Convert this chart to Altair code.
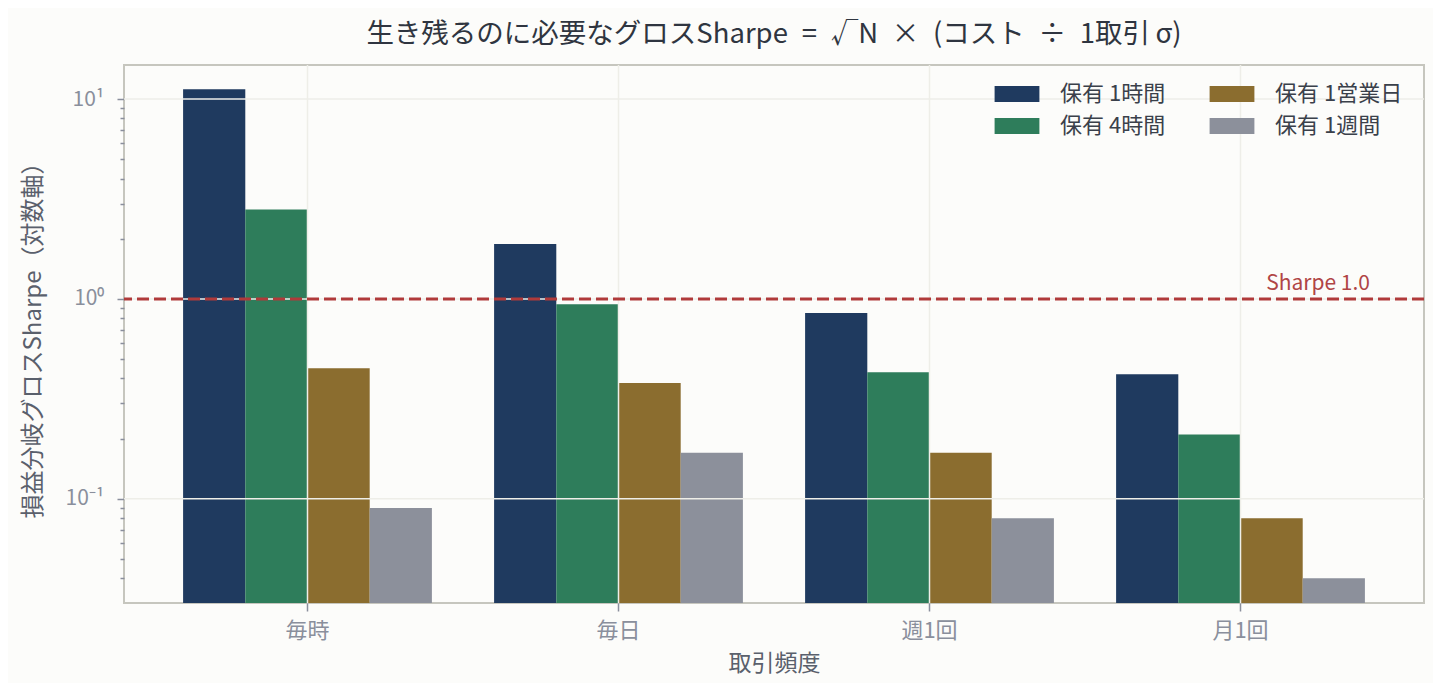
import altair as alt
import pandas as pd

# 取引頻度 × 保有期間ごとの損益分岐グロスSharpe
freqs = ["毎時", "毎日", "週1回", "月1回"]
holds = ["保有 1時間", "保有 4時間", "保有 1営業日", "保有 1週間"]
hold_1h = [11.2, 1.88, 0.85, 0.42]
hold_4h = [2.8, 0.94, 0.43, 0.21]
hold_1d = [0.45, 0.38, 0.17, 0.08]
hold_1w = [0.09, 0.17, 0.08, 0.04]
colors = ["#1f3a5f", "#2e7d5b", "#8b6d2f", "#8c909b"]

major_ticks = [0.1, 1, 10]
minor_ticks = [0.03, 0.04, 0.05, 0.06, 0.07, 0.08, 0.09,
               0.2, 0.3, 0.4, 0.5, 0.6, 0.7, 0.8, 0.9,
               2, 3, 4, 5, 6, 7, 8, 9]
y_min, y_max = 0.0301, 14.8
ref_sharpe = 1.0

rows = []
for h, vals in zip(holds, [hold_1h, hold_4h, hold_1d, hold_1w]):
    for f, v in zip(freqs, vals):
        rows.append({"freq": f, "hold": h, "sharpe": v})
df = pd.DataFrame(rows)

FONT = "Noto Sans CJK JP"
TICK_GRAY = "#8a8f9c"
TEXT_DARK = "#3a404a"
GRID = "#eeeee8"
SP = "\u2002"  # SVGで潰れない幅広スペース

x_enc = alt.X(
    "freq:N", sort=freqs, title="取引頻度",
    scale=alt.Scale(paddingInner=0.2, paddingOuter=0.19),
    axis=alt.Axis(labelAngle=0, domain=False, grid=False, tickSize=8,
                  tickColor=TICK_GRAY, tickWidth=1.5, labelPadding=9,
                  titlePadding=11, labelFontSize=22),
)
y_scale = alt.Scale(type="log", domain=[y_min, y_max], nice=False)
is_major = "datum.value == 10 || datum.value == 1 || datum.value == 0.1"

# 対数軸なので棒の下端は軸の最小値に置く
bars = alt.Chart(df).mark_bar(clip=True).encode(
    x=x_enc,
    xOffset=alt.XOffset("hold:N", sort=holds),
    y=alt.Y(
        "sharpe:Q", scale=y_scale, title="損益分岐グロスSharpe（対数軸）",
        axis=alt.Axis(
            values=major_ticks + minor_ticks, grid=False, domain=False,
            labelExpr="datum.value == 10 ? '10¹' : datum.value == 1 ? '10⁰' : datum.value == 0.1 ? '10⁻¹' : ''",
            tickSize={"condition": {"test": is_major, "value": 7}, "value": 4},
            tickColor=TICK_GRAY, tickWidth=1.5, labelPadding=13, titlePadding=20,
            titleFontSize=24,
        ),
    ),
    y2=alt.datum(y_min),
    color=alt.Color(
        "hold:N",
        scale=alt.Scale(domain=holds, range=colors),
        legend=alt.Legend(
            title=None, orient="none", legendX=877, legendY=13, padding=0,
            columns=2, symbolType="M-1.4,-0.5H1.4V0.5H-1.4Z", symbolSize=1024,
            symbolStrokeWidth=0, labelFontSize=22, labelColor=TEXT_DARK,
            labelFont=FONT, columnPadding=43, rowPadding=5, labelOffset=27,
        ),
    ),
    tooltip=["freq:N", "hold:N", alt.Tooltip("sharpe:Q", format=".2f")],
)

grid_y = alt.Chart(pd.DataFrame({"v": major_ticks})).mark_rule(
    color=GRID, strokeWidth=1.5
).encode(y=alt.Y("v:Q", scale=y_scale))

grid_x = alt.Chart(pd.DataFrame({"freq": freqs})).mark_rule(
    color=GRID, strokeWidth=1.5
).encode(x=alt.X("freq:N", sort=freqs))

ref = pd.DataFrame({"v": [ref_sharpe], "label": ["Sharpe 1.0"]})
ref_line = alt.Chart(ref).mark_rule(
    color="#b03a3a", strokeWidth=3, strokeDash=[12, 5]
).encode(y=alt.Y("v:Q", scale=y_scale))
ref_text = alt.Chart(ref).mark_text(
    align="right", baseline="bottom", dy=-5, fontSize=21, font=FONT,
    color="#b04545"
).encode(x=alt.value(1246), y=alt.Y("v:Q", scale=y_scale), text="label:N")

title_text = (
    f"生き残るのに必要なグロスSharpe{SP}={SP}√N{SP}×{SP}(コスト{SP}÷{SP}1取引\u2009σ)"
)

chart = (
    alt.layer(bars, grid_y, grid_x, ref_line, ref_text)
    .properties(
        width=1300, height=538,
        autosize=alt.AutoSizeParams(type="none"),
        padding={"left": 116, "top": 57, "right": 9, "bottom": 80},
        background="#fcfcfa",
        title=alt.TitleParams(
            title_text, fontSize=27.5, font=FONT, fontWeight="normal",
            color="#2f3540", anchor="middle", offset=16,
        ),
    )
    .configure_view(stroke="#c6c6be", strokeWidth=2)
    .configure_axis(
        labelFont=FONT, titleFont=FONT, labelFontSize=21, titleFontSize=23,
        labelColor=TICK_GRAY, titleColor="#5a606c", titleFontWeight="normal",
    )
)

chart.save("out.html", embed_options={"renderer": "svg", "actions": False})
